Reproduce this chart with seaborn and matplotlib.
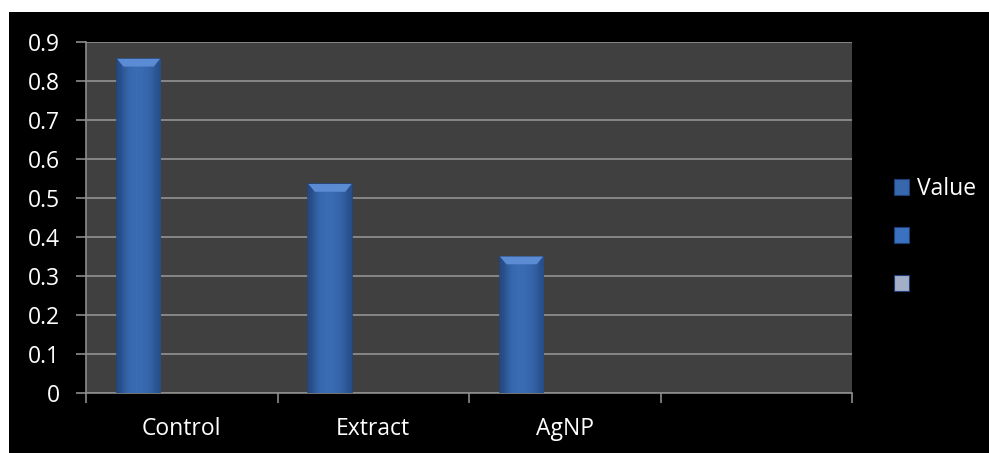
import numpy as np
import pandas as pd
import matplotlib
matplotlib.use("Agg")
import matplotlib.pyplot as plt
from matplotlib.patches import Patch
import seaborn as sns

# Chart data
categories = ["Control", "Extract", "AgNP", ""]
series_names = ["Value", " ", "  "]
value_series = [0.857, 0.536, 0.35, np.nan]
series_2 = [np.nan, np.nan, np.nan, np.nan]
series_3 = [np.nan, np.nan, np.nan, np.nan]
y_ticks = [0, 0.1, 0.2, 0.3, 0.4, 0.5, 0.6, 0.7, 0.8, 0.9]

series_colors = ["#3767ad", "#3a72bf", "#a3aec8"]

rows = []
for name, vals in zip(series_names, [value_series, series_2, series_3]):
    for cat, v in zip(categories, vals):
        rows.append({"category": cat, "series": name, "value": v})
df = pd.DataFrame(rows)

sns.set_theme(style="white")
plt.rcParams["font.family"] = ["Open Sans", "DejaVu Sans"]

FS = 16.5

fig = plt.figure(figsize=(9.89, 4.53), dpi=100, facecolor="white")
# black chart area
fig.patches.append(plt.Rectangle((9 / 989, 0), 1, 1 - 12 / 453,
                                 transform=fig.transFigure, facecolor="black",
                                 edgecolor="none", zorder=-10))

ax = fig.add_axes([86 / 989, 1 - 393 / 453, (852 - 86) / 989, (393 - 42) / 453])
ax.set_facecolor("#404040")

sns.barplot(data=df, x="category", y="value", hue="series",
            order=categories, hue_order=series_names,
            palette=series_colors, width=0.677, errorbar=None,
            edgecolor="#22457c", linewidth=1.2, legend=False, ax=ax, zorder=3)

# horizontal shading across each bar plus a light bevel at the top
shade = np.array([0.55, 0.8, 0.95, 1.0, 1.0, 0.97, 0.9, 0.8, 0.6])[None, :]
cmap = matplotlib.colors.LinearSegmentedColormap.from_list(
    "barshade", ["#1d3f73", "#3a6cb4"])
for p in list(ax.patches):
    h = p.get_height()
    if not np.isfinite(h) or h <= 0:
        continue
    x0, w = p.get_x(), p.get_width()
    im = ax.imshow(shade, cmap=cmap, vmin=0.4, vmax=1.0, aspect="auto",
                   extent=(x0, x0 + w, 0, h), zorder=3.5, interpolation="bicubic")
    im.set_clip_path(p)
    cap = 0.02
    ax.fill([x0, x0 + w, x0 + w * 0.85, x0 + w * 0.15],
            [h, h, h - cap, h - cap], color="#5b8bd2", zorder=4, lw=0)

ax.set_xlim(-0.5, len(categories) - 0.5)
ax.set_ylim(0, 0.9)
ax.set_yticks(y_ticks)
ax.set_yticklabels(["0" if t == 0 else f"{t:.1f}" for t in y_ticks])
ax.yaxis.grid(True, color="#8c8c8c", linewidth=1.3, zorder=0)
ax.set_axisbelow(True)

ax.set_xticks(range(len(categories)))
ax.set_xticklabels(categories)
ax.set_xticks(np.arange(-0.5, len(categories)), minor=True)
ax.tick_params(axis="x", which="major", length=0, pad=17, labelsize=FS,
               labelcolor="white")
ax.tick_params(axis="x", which="minor", length=7, width=1.2, color="#8c8c8c",
               direction="out", bottom=True)
ax.tick_params(axis="y", length=7, width=1.2, color="#8c8c8c", pad=12,
               labelsize=FS, labelcolor="white", left=True)
ax.set_xlabel("")
ax.set_ylabel("")

for s in ["top", "right"]:
    ax.spines[s].set_visible(False)
for s in ["left", "bottom"]:
    ax.spines[s].set_color("#8c8c8c")
    ax.spines[s].set_linewidth(1.2)

handles = [Patch(facecolor=c, edgecolor="#1d3f73", linewidth=0.8) for c in series_colors]
leg = fig.legend(handles, ["Value", " ", " "], loc="center left",
                 bbox_to_anchor=(894 / 989, 1 - 237 / 453), frameon=False,
                 borderpad=0, borderaxespad=0,
                 fontsize=FS, labelcolor="white", handlelength=0.66,
                 handleheight=0.66, handletextpad=0.33, labelspacing=1.05)

fig.savefig("out.png", dpi=100, facecolor="white")
